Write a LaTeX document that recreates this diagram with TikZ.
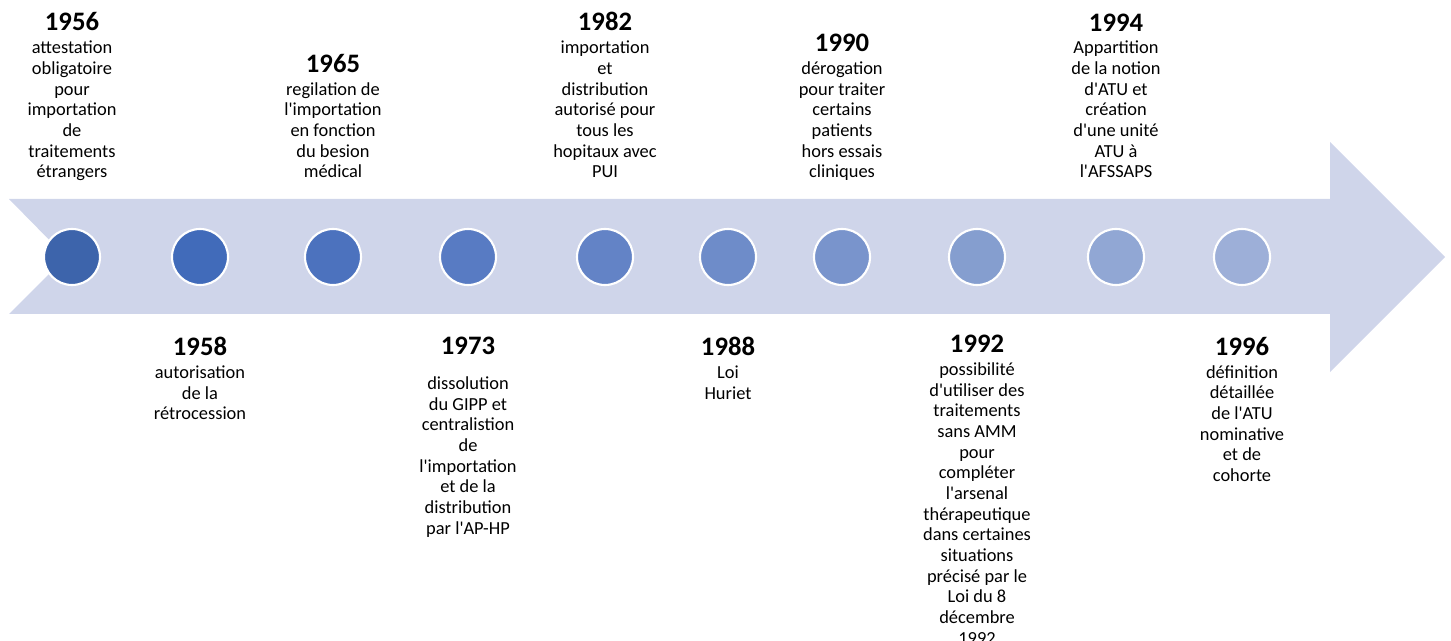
\documentclass[tikz,border=0pt]{standalone}
\usepackage{fontspec}
\setmainfont{Carlito}[Ligatures=TeXOff]
\usetikzlibrary{positioning}
\definecolor{arrowblue}{HTML}{CFD5EA}
\definecolor{dotA}{HTML}{3D64AB}
\definecolor{dotB}{HTML}{416BBA}
\definecolor{dotC}{HTML}{4C72BE}
\definecolor{dotD}{HTML}{587BC3}
\definecolor{dotE}{HTML}{6383C6}
\definecolor{dotF}{HTML}{6E8CC9}
\definecolor{dotG}{HTML}{7994CC}
\definecolor{dotH}{HTML}{859ECF}
\definecolor{dotI}{HTML}{91A7D4}
\definecolor{dotJ}{HTML}{9DAFD8}

\begin{document}
\begin{tikzpicture}[x=0.75pt,y=-0.75pt,
    dot/.style={circle,draw=white,line width=1.6pt,minimum size=42pt,inner sep=0pt},
    year/.style={font=\fontsize{20}{22}\selectfont\bfseries,inner sep=0pt},
    desc/.style={font=\fontsize{13.8}{15.5}\selectfont,align=center,inner sep=0pt,text depth=0pt},
    node distance=7pt]
        \useasboundingbox (0,0) rectangle (1451,641);
        % the arrow
        \fill[arrowblue] (9,199)--(1330,199)--(1330,142)--(1445,257)--(1330,372)--(1330,314)--(9,314)--(66,257)--cycle;
        % dots
        \node[dot,fill=dotA] (d56) at (72,257) {};
        \node[dot,fill=dotB] (d58) at (200,257) {};
        \node[dot,fill=dotC] (d65) at (333,257) {};
        \node[dot,fill=dotD] (d73) at (468,257) {};
        \node[dot,fill=dotE] (d82) at (605,257) {};
        \node[dot,fill=dotF] (d88) at (728,257) {};
        \node[dot,fill=dotG] (d90) at (842,257) {};
        \node[dot,fill=dotH] (d92) at (977,257) {};
        \node[dot,fill=dotI] (d94) at (1116,257) {};
        \node[dot,fill=dotJ] (d96) at (1242,257) {};
        % texts above
        \node[desc,anchor=south] (t56) at (72,178) {attestation\\obligatoire\\pour\\importation\\de\\traitements\\étrangers};
        \node[year,above=of t56] (y56) {1956};
        \node[desc,anchor=south] (t65) at (333,178) {regilation de\\l'importation\\en fonction\\du besion\\médical};
        \node[year,above=of t65] (y65) {1965};
        \node[desc,anchor=south] (t82) at (605,178) {importation\\et\\distribution\\autorisé pour\\tous les\\hopitaux avec\\PUI};
        \node[year,above=of t82] (y82) {1982};
        \node[desc,anchor=south] (t90) at (842,178) {dérogation\\pour traiter\\certains\\patients\\hors essais\\cliniques};
        \node[year,above=of t90] (y90) {1990};
        \node[desc,anchor=south] (t94) at (1116,178) {Appartition\\de la notion\\d'ATU et\\création\\d'une unité\\ATU à\\l'AFSSAPS};
        \node[year,above=of t94] (y94) {1994};
        % texts below
        \node[year,anchor=north] (y58) at (200,337) {1958};
        \node[desc,below=of y58] (t58) {autorisation\\de la\\rétrocession};
        \node[year,anchor=north] (y73) at (468,337) {1973};
        \node[desc,below=16pt of y73] (t73) {dissolution\\du GIPP et\\centralistion\\de\\l'importation\\et de la\\distribution\\par l'AP-HP};
        \node[year,anchor=north] (y88) at (728,337) {1988};
        \node[desc,below=of y88] (t88) {Loi\\Huriet};
        \node[year,anchor=north] (y92) at (977,335) {1992};
        \node[desc,below=of y92] (t92) {possibilité\\d'utiliser des\\traitements\\sans AMM\\pour\\compléter\\l'arsenal\\thérapeutique\\dans certaines\\situations\\précisé par le\\Loi du 8\\décembre\\1992};
        \node[year,anchor=north] (y96) at (1242,337) {1996};
        \node[desc,below=of y96] (t96) {définition\\détaillée\\de l'ATU\\nominative\\et de\\cohorte};
    \end{tikzpicture}
\end{document}
